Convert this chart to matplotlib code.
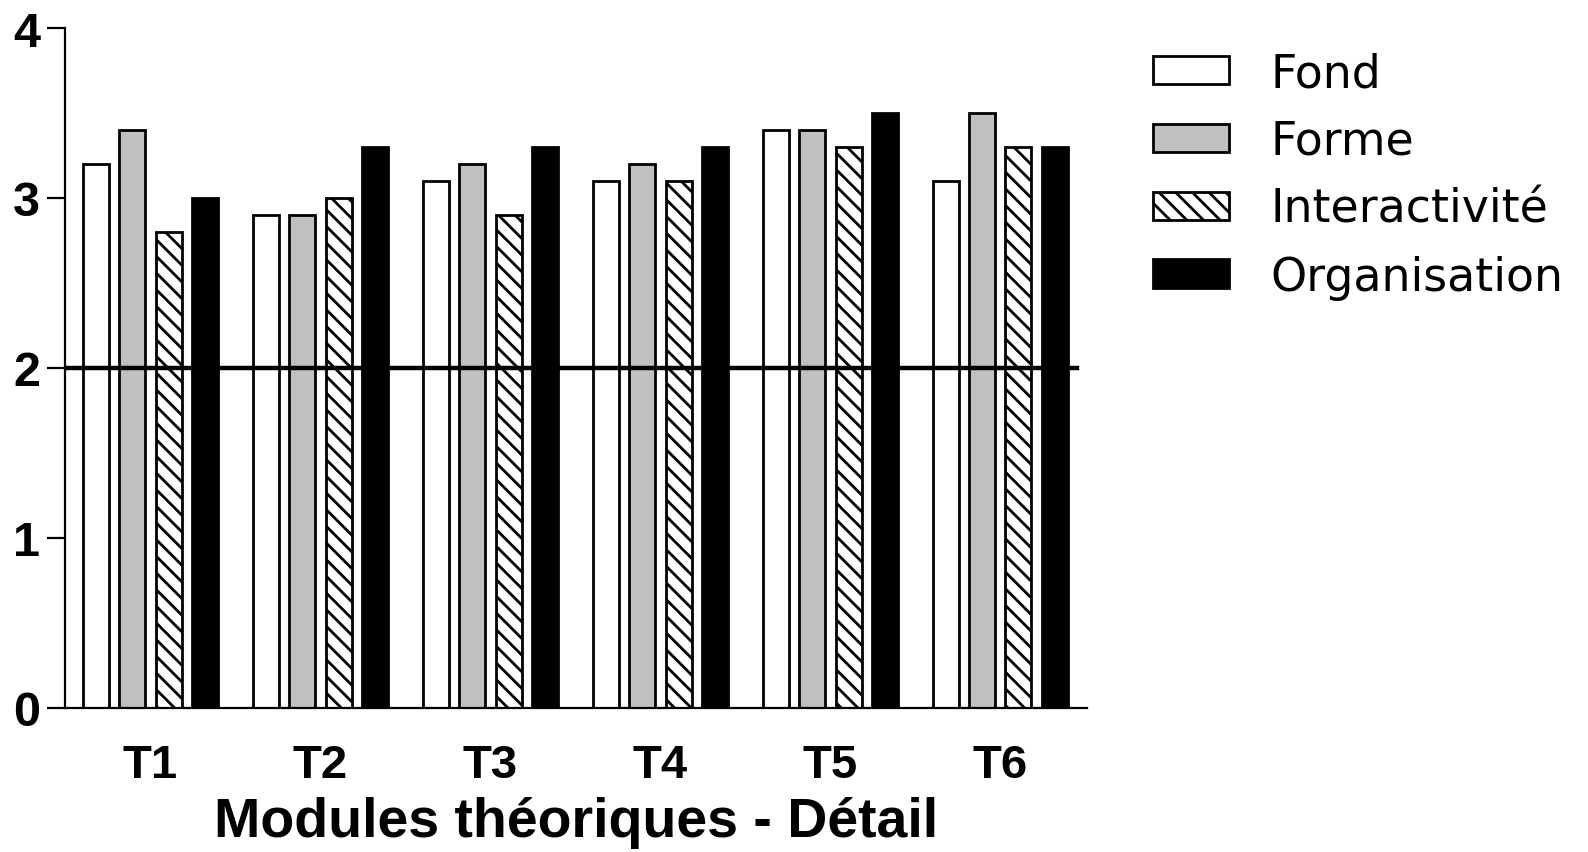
import matplotlib.pyplot as plt
import numpy as np

plt.rcParams['font.family'] = ['Liberation Sans', 'DejaVu Sans']
plt.rcParams['hatch.linewidth'] = 2.0

# Data
modules = ['T1', 'T2', 'T3', 'T4', 'T5', 'T6']
fond = [3.2, 2.9, 3.1, 3.1, 3.4, 3.1]
forme = [3.4, 2.9, 3.2, 3.2, 3.4, 3.5]
interactivite = [2.8, 3.0, 2.9, 3.1, 3.3, 3.3]
organisation = [3.0, 3.3, 3.3, 3.3, 3.5, 3.3]
series_names = ['Fond', 'Forme', 'Interactivité', 'Organisation']
threshold = 2

fig = plt.figure(figsize=(15.88, 8.53), dpi=100)
ax = fig.add_axes([0.041, 0.169, 0.6435, 0.797])

x = np.arange(len(modules))
step = 0.2135
width = 0.153
styles = [
    dict(color='white', edgecolor='black'),
    dict(color='#c0c0c0', edgecolor='black'),
    dict(color='white', edgecolor='black', hatch='\\\\'),
    dict(color='black', edgecolor='black'),
]
for i, (vals, name, st) in enumerate(zip([fond, forme, interactivite, organisation], series_names, styles)):
    ax.bar(x + (i - 1.5) * step, vals, width, label=name, linewidth=2, **st)

# reference line at 2
ax.plot([-0.503, 5.45], [threshold, threshold], color='black', linewidth=3.2, zorder=5)

ax.set_xlim(-0.503, 5.51)
ax.set_ylim(0, 4)
ax.set_yticks([0, 1, 2, 3, 4])
ax.set_xticks(x)
ax.set_xticklabels(modules, fontsize=34, fontweight='bold')
ax.tick_params(axis='y', length=13, width=1.6, labelsize=35, pad=5)
ax.tick_params(axis='x', length=0, pad=25)
for lab in ax.get_yticklabels():
    lab.set_fontweight('bold')
ax.spines['top'].set_visible(False)
ax.spines['right'].set_visible(False)
ax.spines['left'].set_linewidth(1.6)
ax.spines['bottom'].set_linewidth(1.6)

ax.set_xlabel('Modules théoriques - Détail', fontsize=40, fontweight='bold', labelpad=7)

leg = ax.legend(loc='upper left', bbox_to_anchor=(0.726, 0.939), bbox_transform=fig.transFigure,
                frameon=False, borderpad=0, borderaxespad=0,
                prop={'family': 'DejaVu Sans', 'size': 33},
                handlelength=1.66, handleheight=0.57, handletextpad=0.9,
                labelspacing=0.5)

plt.savefig('out.png', dpi=100)
